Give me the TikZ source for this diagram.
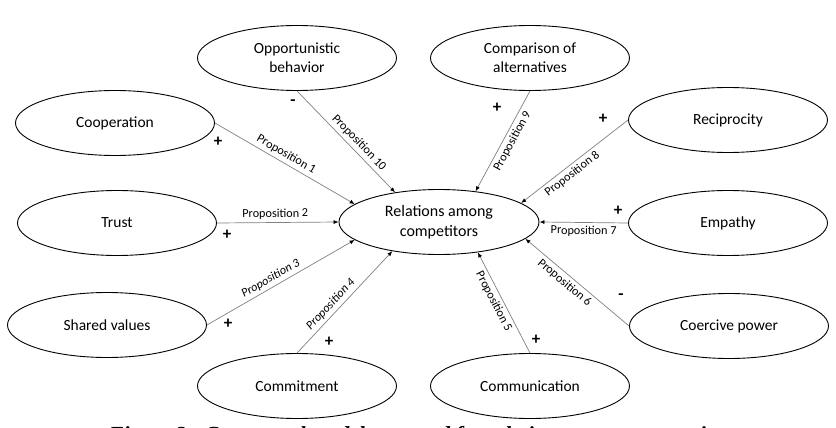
\documentclass[tikz,border=0pt]{standalone}
\usepackage{fontspec}
\setmainfont{Carlito}
\newfontfamily\capfont{Liberation Serif}
\usetikzlibrary{shapes.geometric,arrows.meta}

\begin{document}
\begin{tikzpicture}[x=1pt,y=-1pt,
    construct/.style={draw,ellipse,line width=0.9pt,minimum width=199pt,minimum height=65pt,
      align=center,font=\fontsize{15.5}{19}\selectfont},
    link/.style={draw=gray,line width=0.7pt,-{Latex[black,length=5pt,width=4pt]}},
    prop/.style={font=\fontsize{12.2}{14}\selectfont,sloped,inner sep=3pt},
    sign/.style={font=\fontsize{17}{17}\selectfont\bfseries,inner sep=0pt}]
  \useasboundingbox (0,0) rectangle (836,428);
  % central construct
  \node[construct,minimum width=200pt,font=\fontsize{16}{20}\selectfont] (rel) at (439,222) {Relations among\\competitors};
  % antecedents
  \node[construct] (opp) at (297,58) {Opportunistic\\behavior};
  \node[construct] (comp) at (530,58) {Comparison of\\alternatives};
  \node[construct] (coop) at (115,123) {Cooperation};
  \node[construct] (reci) at (728,120) {Reciprocity};
  \node[construct] (trust) at (117,223) {Trust};
  \node[construct] (emp) at (728,223) {Empathy};
  \node[construct] (shared) at (107,325) {Shared values};
  \node[construct] (coer) at (729,326) {Coercive power};
  \node[construct] (commit) at (297,386) {Commitment};
  \node[construct] (comm) at (530,386) {Communication};
  % propositions
  \draw[link] (coop.east) -- node[prop,above,pos=0.48] (p1) {Proposition 1} (rel.168);
  \draw[link] (trust.east) -- node[prop,above,pos=0.48] (p2) {Proposition 2} (rel.180);
  \draw[link] (shared.east) -- node[prop,above,pos=0.46,font=\fontsize{12.2}{14}\selectfont\itshape] (p3) {Proposition 3} (rel.192);
  \draw[link] (commit.north) -- node[prop,above,pos=0.42,font=\fontsize{12.2}{14}\selectfont\itshape] (p4) {Proposition 4} (rel.212);
  \draw[link] (comm.north) -- node[prop,below,pos=0.55] (p5) {Proposition 5} (rel.-38);
  \draw[link] (coer.west) -- node[prop,below,pos=0.57] (p6) {Proposition 6} (rel.-11);
  \draw[link] (emp.west) -- node[prop,below,pos=0.5] (p7) {Proposition 7} (rel.0);
  \draw[link] (reci.west) -- node[prop,below,pos=0.57] (p8) {Proposition 8} (rel.13);
  \draw[link] (comp.south) -- node[prop,below,pos=0.46] (p9) {Proposition 9} (rel.40);
  \draw[link] (opp.south) -- node[prop,above,pos=0.57] (p10) {Proposition 10} (rel.146);
  % signs
  \node[sign] (s1) at (218,142) {+};
  \node[sign] (s2) at (227,235) {+};
  \node[sign] (s3) at (228,324) {+};
  \node[sign] (s4) at (329,342) {+};
  \node[sign] (s5) at (536,340) {+};
  \node[sign] (s6) at (621,297) {-};
  \node[sign] (s7) at (618,211) {+};
  \node[sign] (s8) at (603,119) {+};
  \node[sign] (s9) at (497,108) {+};
  \node[sign] (s10) at (293,103) {-};
  % caption, cut by the lower edge
  \node[anchor=base west,inner sep=0pt,font=\capfont\bfseries\itshape\fontsize{21.5}{21.5}\selectfont] (caption) at (109,441.5)
    {Figure 2 - Conceptual model proposed for relations among competitors};
\end{tikzpicture}
\end{document}
